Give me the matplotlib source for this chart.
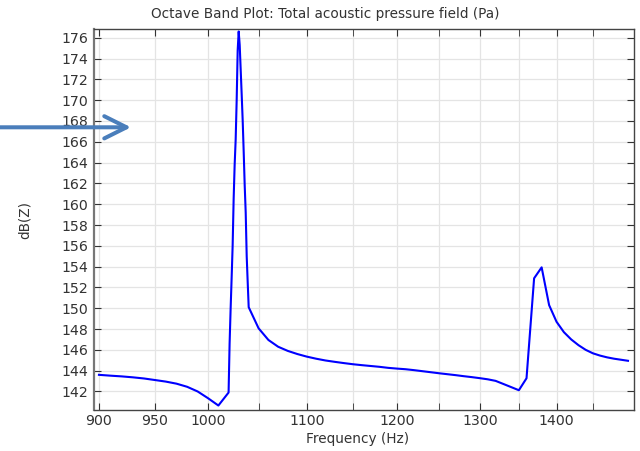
import matplotlib
matplotlib.use('Agg')
import matplotlib.pyplot as plt
from matplotlib.ticker import NullFormatter
from matplotlib.patches import FancyArrowPatch

# frequency sweep (Hz): 10 Hz steps, 1 Hz steps around the first resonance
freq = [900, 910, 920, 930, 940, 950, 960, 970, 980, 990, 1000, 1010,
        1020, 1021, 1022, 1023, 1024, 1025, 1026, 1027, 1028, 1029, 1030,
        1031, 1032, 1033, 1034, 1035, 1036, 1037, 1038, 1039, 1040,
        1050, 1060, 1070, 1080, 1090, 1100, 1110, 1120, 1130, 1140, 1150,
        1160, 1170, 1180, 1190, 1200, 1210, 1220, 1230, 1240, 1250, 1260,
        1270, 1280, 1290, 1300, 1310, 1320, 1330, 1340, 1350, 1360, 1370,
        1380, 1390, 1400, 1410, 1420, 1430, 1440, 1450, 1460, 1470, 1480,
        1490, 1500]
level_db = [143.6, 143.52, 143.45, 143.36, 143.25, 143.1, 142.95, 142.75, 142.45, 142.0, 141.35, 140.65,
            141.9, 146.6, 149.9, 152.9, 156.0, 160.5, 163.8, 166.2, 170.0, 174.8, 176.6,
            175.3, 172.9, 170.5, 168.0, 165.0, 161.8, 159.2, 155.0, 152.5, 150.1,
            148.07, 146.95, 146.3, 145.9, 145.6, 145.35, 145.15, 144.98, 144.85, 144.73, 144.62,
            144.53, 144.45, 144.37, 144.27, 144.2, 144.14, 144.05, 143.95, 143.85, 143.75, 143.66,
            143.57, 143.47, 143.38, 143.28, 143.17, 143.02, 142.72, 142.42, 142.12, 143.27, 152.88,
            153.93, 150.3, 148.7, 147.7, 147.0, 146.45, 146.0, 145.67, 145.45, 145.28, 145.15,
            145.05, 144.95]

x_major = [900, 950, 1000, 1100, 1200, 1300, 1400]
x_minor = [1050, 1150, 1250, 1350, 1450]
y_ticks = list(range(142, 177, 2))

txt = '#333333'
fig = plt.figure(figsize=(6.4, 4.51), dpi=100)
ax = fig.add_axes([94 / 640, 41 / 451, 539.5 / 640, 380.7 / 451])

ax.plot(freq, level_db, color='#0000ff', linewidth=1.5, zorder=3)

ax.set_xscale('log')
ax.set_xlim(895.7, 1508)
ax.set_ylim(140.22, 176.81)
ax.set_xticks(x_major)
ax.set_xticklabels([str(v) for v in x_major])
ax.set_xticks(x_minor, minor=True)
ax.xaxis.set_minor_formatter(NullFormatter())
ax.set_yticks(y_ticks)
ax.grid(True, which='both', color='#e4e4e4', linewidth=0.9, zorder=0)

ax.tick_params(which='both', direction='in', length=5, top=True, right=True,
               labelsize=10.2, labelcolor=txt, color='#333333', pad=4)
ax.tick_params(axis='x', pad=3)
for s in ax.spines.values():
    s.set_color('#444444')
    s.set_linewidth(1.0)
ax.spines['left'].set_color('#777777')
ax.spines['left'].set_linewidth(1.6)

fig.text(0.508, 0.969, 'Octave Band Plot: Total acoustic pressure field (Pa)',
         ha='center', va='center', fontsize=9.8, color=txt)
fig.text(25 / 640, 1 - 220 / 451, 'dB(Z)', rotation=90, ha='center', va='center',
         fontsize=9.8, color=txt)
fig.text(358 / 640, 1 - 439 / 451, 'Frequency (Hz)', ha='center', va='center',
         fontsize=9.8, color=txt)

# callout arrow pointing at the plot
arrow = FancyArrowPatch((0, 451 - 127.3), (131, 451 - 127.3),
                        transform=None, arrowstyle='->,head_length=0.8,head_width=0.4',
                        mutation_scale=20, shrinkA=0, shrinkB=0,
                        color='#4a7ebb', linewidth=2.9, zorder=10)
fig.add_artist(arrow)

plt.savefig('out.png', dpi=100)
